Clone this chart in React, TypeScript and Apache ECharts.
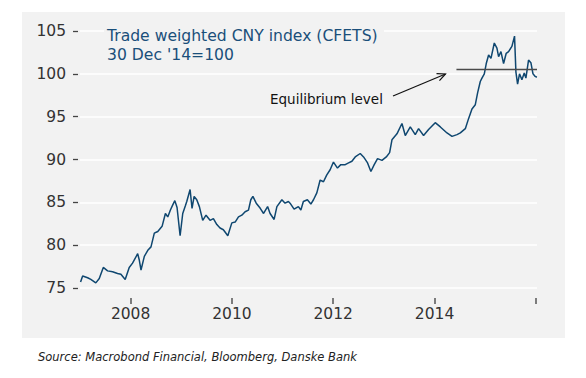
import React, { useEffect, useRef } from 'react';
import * as echarts from 'echarts';

const dates = [
  '2007-01-05', '2007-01-20', '2007-02-25', '2007-03-20', '2007-04-25', '2007-05-20', '2007-06-18', '2007-07-19',
  '2007-08-24', '2007-09-29', '2007-10-23', '2007-11-23', '2007-12-22', '2008-01-15', '2008-02-21', '2008-03-03',
  '2008-03-16', '2008-04-09', '2008-05-04', '2008-05-27', '2008-06-20', '2008-07-15', '2008-08-15', '2008-09-08',
  '2008-09-25', '2008-10-14', '2008-10-31', '2008-11-15', '2008-12-01', '2008-12-23', '2009-01-11', '2009-01-30',
  '2009-02-09', '2009-03-05', '2009-03-19', '2009-04-03', '2009-04-22', '2009-05-11', '2009-06-04', '2009-06-28',
  '2009-07-27', '2009-08-20', '2009-09-14', '2009-10-07', '2009-10-31', '2009-12-02', '2009-12-31', '2010-01-24',
  '2010-02-17', '2010-03-13', '2010-04-06', '2010-04-30', '2010-05-17', '2010-06-01', '2010-06-25', '2010-07-24',
  '2010-08-17', '2010-09-15', '2010-10-03', '2010-11-01', '2010-11-21', '2010-12-27', '2011-01-19', '2011-02-12',
  '2011-02-24', '2011-03-25', '2011-04-25', '2011-05-13', '2011-05-31', '2011-06-29', '2011-07-24', '2011-08-12',
  '2011-09-05', '2011-09-29', '2011-10-23', '2011-11-16', '2011-12-10', '2012-01-03', '2012-02-01', '2012-02-25',
  '2012-03-28', '2012-04-21', '2012-05-15', '2012-06-08', '2012-07-14', '2012-08-07', '2012-09-05', '2012-09-29',
  '2012-10-23', '2012-11-16', '2012-12-18', '2013-01-18', '2013-02-11', '2013-02-28', '2013-04-05', '2013-05-11',
  '2013-06-04', '2013-07-10', '2013-08-15', '2013-09-08', '2013-10-14', '2013-11-19', '2014-01-06', '2014-02-12',
  '2014-04-01', '2014-05-07', '2014-06-12', '2014-07-06', '2014-08-11', '2014-09-04', '2014-09-28', '2014-10-22',
  '2014-11-08', '2014-11-27', '2014-12-09', '2014-12-26', '2015-01-09', '2015-01-26', '2015-02-12', '2015-03-08',
  '2015-03-27', '2015-04-08', '2015-04-25', '2015-05-14', '2015-06-02', '2015-06-19', '2015-07-13', '2015-08-01',
  '2015-08-11', '2015-08-23', '2015-09-06', '2015-09-23', '2015-10-10', '2015-10-22', '2015-11-10', '2015-11-27',
  '2015-12-12', '2015-12-28', '2016-01-09'
];

const cnyIndex = [
  75.7, 76.4, 76.2, 76.0, 75.6, 76.1, 77.4, 77.0,
  76.9, 76.7, 76.6, 76.0, 77.4, 77.9, 79.0, 78.3,
  77.1, 78.7, 79.4, 79.8, 81.4, 81.6, 82.2, 83.7,
  83.3, 84.1, 84.7, 85.2, 84.4, 81.1, 83.7, 84.6,
  85.1, 86.5, 84.3, 85.7, 85.3, 84.5, 82.9, 83.5,
  82.9, 83.1, 82.4, 82.0, 81.8, 81.1, 82.6, 82.7,
  83.3, 83.5, 83.9, 84.1, 85.3, 85.7, 84.9, 84.3,
  83.7, 84.5, 83.7, 83.0, 84.5, 85.3, 84.9, 85.1,
  84.9, 84.2, 84.5, 84.1, 85.1, 85.3, 84.8, 85.3,
  86.1, 87.6, 87.4, 88.2, 88.8, 89.7, 89.0, 89.4,
  89.4, 89.6, 89.8, 90.3, 90.7, 90.3, 89.6, 88.6,
  89.4, 90.1, 89.9, 90.3, 90.8, 92.3, 93.0, 94.2,
  92.8, 93.8, 92.9, 93.6, 92.8, 93.5, 94.3, 93.8,
  93.1, 92.7, 92.9, 93.1, 93.6, 94.8, 95.9, 96.4,
  97.8, 99.1, 99.5, 100.0, 101.2, 102.2, 101.8, 103.6,
  103.0, 102.0, 102.6, 101.2, 102.4, 102.6, 103.2, 104.4,
  100.2, 98.8, 100.0, 99.3, 100.1, 99.5, 101.6, 101.3,
  100.0, 99.7, 99.6
];

const tickYears = [2008, 2010, 2012, 2014, 2016];
const labelYears = [2008, 2010, 2012, 2014];
const xRange = ['2007-01-01', '2016-01-10'];
const equilibriumDates = ['2014-06-08', '2016-01-10'];
const equilibriumValues = [100.5, 100.5];
const yTicks = { min: 75, max: 105, interval: 5 };

const FONT = 'DejaVu Sans';

const toTs = (s: string) => {
  const [y, m, d] = s.split('-').map(Number);
  return Date.UTC(y, m - 1, d);
};
const yearTs = (y: number) => Date.UTC(y, 0, 1);

export default function App() {
  const ref = useRef<HTMLDivElement>(null);
  useEffect(() => {
    if (!ref.current) return;
    const chart = echarts.init(ref.current, undefined, { renderer: 'svg' });
    const series = dates.map((d, i) => [toTs(d), cnyIndex[i]]);
    const eq = equilibriumDates.map((d, i) => [toTs(d), equilibriumValues[i]]);

    // arrow annotation geometry
    const tail = [393, 96];
    const tip = [445.5, 74];
    const dx = tip[0] - tail[0];
    const dy = tip[1] - tail[1];
    const len = Math.hypot(dx, dy);
    const bx = -dx / len;
    const by = -dy / len;
    const ang = (25 * Math.PI) / 180;
    const head = 9;
    const a1 = [tip[0] + head * (bx * Math.cos(ang) - by * Math.sin(ang)), tip[1] + head * (bx * Math.sin(ang) + by * Math.cos(ang))];
    const a2 = [tip[0] + head * (bx * Math.cos(ang) + by * Math.sin(ang)), tip[1] + head * (-bx * Math.sin(ang) + by * Math.cos(ang))];

    chart.setOption({
      animation: false,
      backgroundColor: '#ffffff',
      grid: { left: 80, right: 49, top: 31, bottom: 90, containLabel: false },
      xAxis: {
        type: 'value',
        min: toTs(xRange[0]),
        max: toTs(xRange[1]),
        offset: 10,
        axisLine: { show: false },
        axisTick: {
          show: true,
          length: 6,
          lineStyle: { color: '#555555', width: 1.5 },
          customValues: tickYears.map(yearTs),
        },
        axisLabel: {
          show: true,
          margin: 8,
          color: '#333333',
          fontFamily: FONT,
          fontSize: 15.5,
          customValues: labelYears.map(yearTs),
          formatter: (v: number) => String(new Date(v).getUTCFullYear()),
        },
        splitLine: { show: false },
      },
      yAxis: {
        type: 'value',
        min: yTicks.min,
        max: yTicks.max,
        interval: yTicks.interval,
        offset: 2,
        axisLine: { show: false },
        axisTick: { show: true, length: 5, lineStyle: { color: '#444444', width: 1.3 } },
        axisLabel: { margin: 12, color: '#333333', fontFamily: FONT, fontSize: 15.5 },
        splitLine: { show: true, lineStyle: { color: '#ffffff', width: 1.5 } },
      },
      series: [
        {
          type: 'line',
          data: series,
          showSymbol: false,
          symbol: 'none',
          lineStyle: { color: '#0f4770', width: 1.5 },
          z: 3,
        },
        {
          type: 'line',
          data: eq,
          showSymbol: false,
          symbol: 'none',
          lineStyle: { color: '#4a4a4a', width: 1.6 },
          z: 4,
        },
      ],
      graphic: [
        {
          type: 'rect',
          z: -100,
          shape: { x: 22, y: 12, width: 543, height: 326 },
          style: { fill: '#f2f2f2' },
        },
        {
          type: 'rect',
          z: 50,
          shape: { x: 104, y: 27, width: 280, height: 8 },
          style: { fill: '#f2f2f2' },
        },
        {
          type: 'text',
          z: 100,
          x: 107,
          y: 36,
          style: {
            text: 'Trade weighted CNY index (CFETS)',
            fill: '#1a4f7a',
            font: `15.6px "${FONT}"`,
            verticalAlign: 'middle',
            align: 'left',
          },
        },
        {
          type: 'text',
          z: 100,
          x: 107,
          y: 55,
          style: {
            text: "30 Dec '14=100",
            fill: '#1a4f7a',
            font: `15.6px "${FONT}"`,
            verticalAlign: 'middle',
            align: 'left',
          },
        },
        {
          type: 'text',
          z: 100,
          x: 270,
          y: 99,
          style: {
            text: 'Equilibrium level',
            fill: '#111111',
            font: `13.5px "${FONT}"`,
            verticalAlign: 'middle',
            align: 'left',
          },
        },
        {
          type: 'line',
          z: 100,
          shape: { x1: tail[0], y1: tail[1], x2: tip[0], y2: tip[1] },
          style: { stroke: '#111111', lineWidth: 1.2 },
        },
        {
          type: 'polyline',
          z: 100,
          shape: { points: [a1, tip, a2] },
          style: { stroke: '#111111', lineWidth: 1.2, fill: null },
        },
        {
          type: 'text',
          z: 100,
          x: 38,
          y: 357,
          style: {
            text: 'Source: Macrobond Financial, Bloomberg, Danske Bank',
            fill: '#222222',
            font: `italic 11.5px "${FONT}"`,
            verticalAlign: 'middle',
            align: 'left',
          },
        },
      ],
    });
    return () => chart.dispose();
  }, []);
  return (
    <div
      ref={ref}
      style={{ position: 'fixed', left: 0, top: 0, width: 586, height: 378 }}
    />
  );
}
